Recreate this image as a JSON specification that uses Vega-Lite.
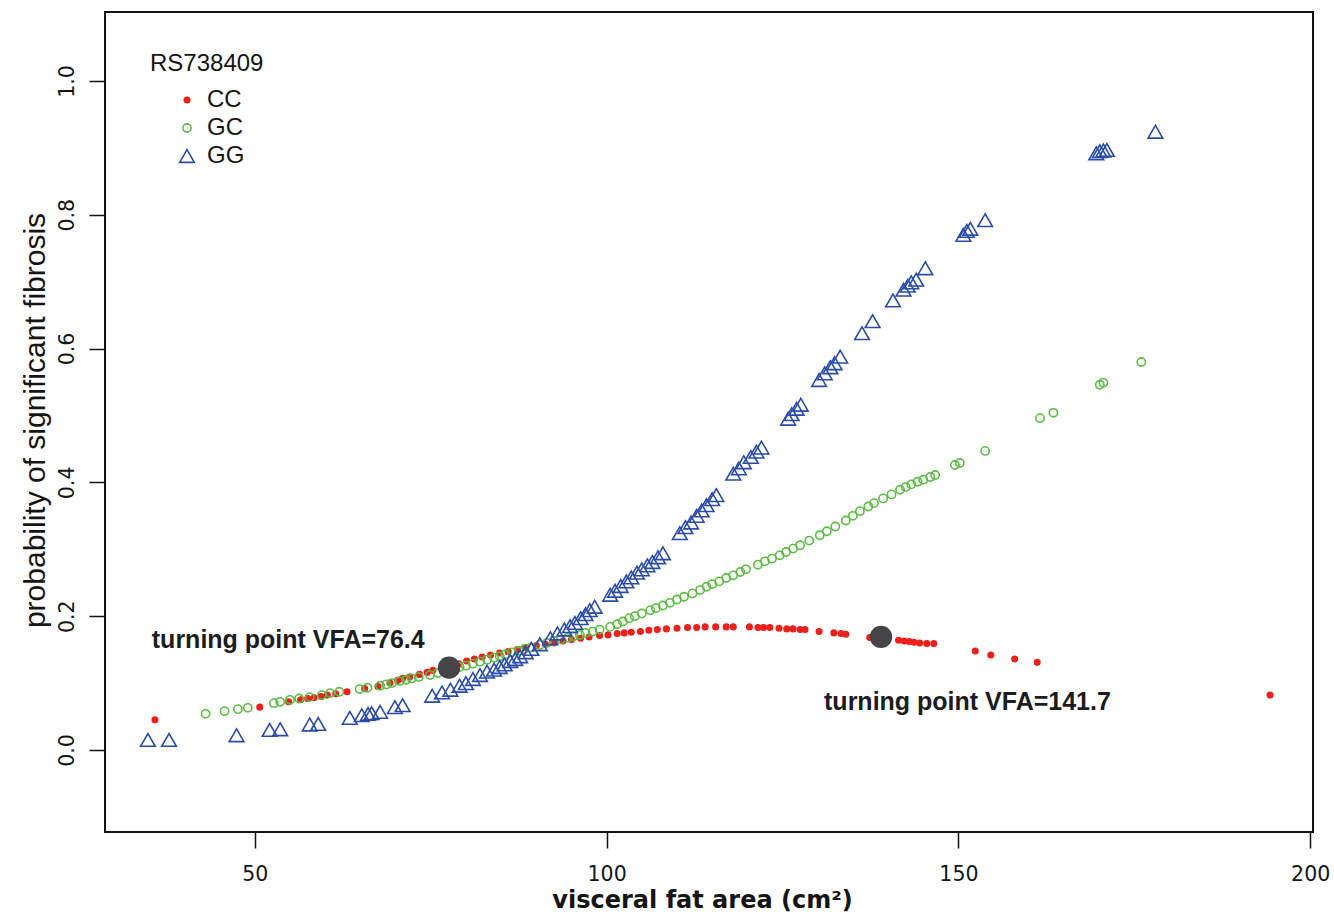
{
  "$schema": "https://vega.github.io/schema/vega-lite/v6.json",
  "width": 1208,
  "height": 820,
  "autosize": {"type": "none"},
  "padding": {"left": 105, "top": 12, "right": 21, "bottom": 84},
  "background": "white",
  "config": {
    "view": {"stroke": "#111111", "strokeWidth": 2},
    "axis": {
      "grid": false,
      "domain": false,
      "ticks": true,
      "tickSize": 16,
      "tickWidth": 1.5,
      "tickColor": "#111111",
      "labelFont": "DejaVu Sans",
      "labelFontSize": 20.5,
      "labelColor": "#151515",
      "titleColor": "#151515"
    }
  },
  "layer": [
    {
      "data": {
        "values": [
          {"RS738409": "CC", "vfa": 35.8, "prob": 0.045},
          {"RS738409": "CC", "vfa": 50.7, "prob": 0.064},
          {"RS738409": "CC", "vfa": 54.8, "prob": 0.072},
          {"RS738409": "CC", "vfa": 56.5, "prob": 0.075},
          {"RS738409": "CC", "vfa": 57.5, "prob": 0.077},
          {"RS738409": "CC", "vfa": 58.4, "prob": 0.078},
          {"RS738409": "CC", "vfa": 59.4, "prob": 0.080},
          {"RS738409": "CC", "vfa": 60.3, "prob": 0.082},
          {"RS738409": "CC", "vfa": 61.5, "prob": 0.084},
          {"RS738409": "CC", "vfa": 63.1, "prob": 0.087},
          {"RS738409": "CC", "vfa": 65.6, "prob": 0.092},
          {"RS738409": "CC", "vfa": 67.5, "prob": 0.095},
          {"RS738409": "CC", "vfa": 69.2, "prob": 0.100},
          {"RS738409": "CC", "vfa": 70.3, "prob": 0.104},
          {"RS738409": "CC", "vfa": 71.0, "prob": 0.107},
          {"RS738409": "CC", "vfa": 72.0, "prob": 0.109},
          {"RS738409": "CC", "vfa": 73.4, "prob": 0.113},
          {"RS738409": "CC", "vfa": 74.5, "prob": 0.116},
          {"RS738409": "CC", "vfa": 75.3, "prob": 0.119},
          {"RS738409": "CC", "vfa": 76.5, "prob": 0.122},
          {"RS738409": "CC", "vfa": 78.0, "prob": 0.126},
          {"RS738409": "CC", "vfa": 79.0, "prob": 0.129},
          {"RS738409": "CC", "vfa": 80.1, "prob": 0.133},
          {"RS738409": "CC", "vfa": 81.2, "prob": 0.136},
          {"RS738409": "CC", "vfa": 82.3, "prob": 0.139},
          {"RS738409": "CC", "vfa": 83.5, "prob": 0.142},
          {"RS738409": "CC", "vfa": 84.8, "prob": 0.145},
          {"RS738409": "CC", "vfa": 86.0, "prob": 0.147},
          {"RS738409": "CC", "vfa": 87.3, "prob": 0.150},
          {"RS738409": "CC", "vfa": 88.5, "prob": 0.153},
          {"RS738409": "CC", "vfa": 90.0, "prob": 0.156},
          {"RS738409": "CC", "vfa": 91.3, "prob": 0.158},
          {"RS738409": "CC", "vfa": 92.5, "prob": 0.160},
          {"RS738409": "CC", "vfa": 93.8, "prob": 0.163},
          {"RS738409": "CC", "vfa": 95.0, "prob": 0.165},
          {"RS738409": "CC", "vfa": 96.3, "prob": 0.167},
          {"RS738409": "CC", "vfa": 97.5, "prob": 0.169},
          {"RS738409": "CC", "vfa": 99.0, "prob": 0.171},
          {"RS738409": "CC", "vfa": 100.2, "prob": 0.172},
          {"RS738409": "CC", "vfa": 101.5, "prob": 0.174},
          {"RS738409": "CC", "vfa": 102.5, "prob": 0.175},
          {"RS738409": "CC", "vfa": 103.5, "prob": 0.176},
          {"RS738409": "CC", "vfa": 104.8, "prob": 0.177},
          {"RS738409": "CC", "vfa": 106.0, "prob": 0.179},
          {"RS738409": "CC", "vfa": 107.2, "prob": 0.180},
          {"RS738409": "CC", "vfa": 108.5, "prob": 0.181},
          {"RS738409": "CC", "vfa": 110.0, "prob": 0.182},
          {"RS738409": "CC", "vfa": 111.5, "prob": 0.183},
          {"RS738409": "CC", "vfa": 112.8, "prob": 0.183},
          {"RS738409": "CC", "vfa": 114.0, "prob": 0.184},
          {"RS738409": "CC", "vfa": 115.5, "prob": 0.184},
          {"RS738409": "CC", "vfa": 117.0, "prob": 0.184},
          {"RS738409": "CC", "vfa": 118.0, "prob": 0.184},
          {"RS738409": "CC", "vfa": 120.3, "prob": 0.184},
          {"RS738409": "CC", "vfa": 121.5, "prob": 0.183},
          {"RS738409": "CC", "vfa": 122.3, "prob": 0.183},
          {"RS738409": "CC", "vfa": 123.2, "prob": 0.183},
          {"RS738409": "CC", "vfa": 124.5, "prob": 0.182},
          {"RS738409": "CC", "vfa": 125.6, "prob": 0.181},
          {"RS738409": "CC", "vfa": 126.5, "prob": 0.181},
          {"RS738409": "CC", "vfa": 127.5, "prob": 0.180},
          {"RS738409": "CC", "vfa": 128.2, "prob": 0.180},
          {"RS738409": "CC", "vfa": 130.2, "prob": 0.177},
          {"RS738409": "CC", "vfa": 132.3, "prob": 0.175},
          {"RS738409": "CC", "vfa": 133.3, "prob": 0.174},
          {"RS738409": "CC", "vfa": 134.0, "prob": 0.173},
          {"RS738409": "CC", "vfa": 137.4, "prob": 0.168},
          {"RS738409": "CC", "vfa": 141.5, "prob": 0.164},
          {"RS738409": "CC", "vfa": 142.3, "prob": 0.163},
          {"RS738409": "CC", "vfa": 143.0, "prob": 0.162},
          {"RS738409": "CC", "vfa": 143.7, "prob": 0.161},
          {"RS738409": "CC", "vfa": 144.5, "prob": 0.160},
          {"RS738409": "CC", "vfa": 145.5, "prob": 0.159},
          {"RS738409": "CC", "vfa": 146.5, "prob": 0.159},
          {"RS738409": "CC", "vfa": 152.4, "prob": 0.148},
          {"RS738409": "CC", "vfa": 154.6, "prob": 0.142},
          {"RS738409": "CC", "vfa": 158.0, "prob": 0.136},
          {"RS738409": "CC", "vfa": 161.2, "prob": 0.131},
          {"RS738409": "CC", "vfa": 194.3, "prob": 0.082},
          {"RS738409": "GC", "vfa": 43.0, "prob": 0.054},
          {"RS738409": "GC", "vfa": 45.7, "prob": 0.058},
          {"RS738409": "GC", "vfa": 47.6, "prob": 0.061},
          {"RS738409": "GC", "vfa": 49.0, "prob": 0.063},
          {"RS738409": "GC", "vfa": 52.7, "prob": 0.070},
          {"RS738409": "GC", "vfa": 53.6, "prob": 0.072},
          {"RS738409": "GC", "vfa": 55.0, "prob": 0.075},
          {"RS738409": "GC", "vfa": 56.3, "prob": 0.077},
          {"RS738409": "GC", "vfa": 57.8, "prob": 0.079},
          {"RS738409": "GC", "vfa": 59.5, "prob": 0.082},
          {"RS738409": "GC", "vfa": 60.7, "prob": 0.085},
          {"RS738409": "GC", "vfa": 62.0, "prob": 0.087},
          {"RS738409": "GC", "vfa": 64.9, "prob": 0.091},
          {"RS738409": "GC", "vfa": 66.0, "prob": 0.093},
          {"RS738409": "GC", "vfa": 67.8, "prob": 0.096},
          {"RS738409": "GC", "vfa": 68.7, "prob": 0.098},
          {"RS738409": "GC", "vfa": 69.5, "prob": 0.100},
          {"RS738409": "GC", "vfa": 70.6, "prob": 0.103},
          {"RS738409": "GC", "vfa": 71.5, "prob": 0.105},
          {"RS738409": "GC", "vfa": 72.3, "prob": 0.107},
          {"RS738409": "GC", "vfa": 73.3, "prob": 0.109},
          {"RS738409": "GC", "vfa": 74.9, "prob": 0.112},
          {"RS738409": "GC", "vfa": 76.0, "prob": 0.115},
          {"RS738409": "GC", "vfa": 77.0, "prob": 0.118},
          {"RS738409": "GC", "vfa": 78.0, "prob": 0.120},
          {"RS738409": "GC", "vfa": 79.1, "prob": 0.124},
          {"RS738409": "GC", "vfa": 80.0, "prob": 0.126},
          {"RS738409": "GC", "vfa": 81.0, "prob": 0.129},
          {"RS738409": "GC", "vfa": 82.0, "prob": 0.132},
          {"RS738409": "GC", "vfa": 83.0, "prob": 0.135},
          {"RS738409": "GC", "vfa": 84.0, "prob": 0.138},
          {"RS738409": "GC", "vfa": 84.8, "prob": 0.140},
          {"RS738409": "GC", "vfa": 85.6, "prob": 0.143},
          {"RS738409": "GC", "vfa": 86.5, "prob": 0.146},
          {"RS738409": "GC", "vfa": 87.5, "prob": 0.148},
          {"RS738409": "GC", "vfa": 88.3, "prob": 0.151},
          {"RS738409": "GC", "vfa": 89.2, "prob": 0.153},
          {"RS738409": "GC", "vfa": 90.5, "prob": 0.157},
          {"RS738409": "GC", "vfa": 91.5, "prob": 0.160},
          {"RS738409": "GC", "vfa": 92.5, "prob": 0.163},
          {"RS738409": "GC", "vfa": 93.5, "prob": 0.165},
          {"RS738409": "GC", "vfa": 94.5, "prob": 0.168},
          {"RS738409": "GC", "vfa": 95.3, "prob": 0.170},
          {"RS738409": "GC", "vfa": 96.2, "prob": 0.172},
          {"RS738409": "GC", "vfa": 97.0, "prob": 0.175},
          {"RS738409": "GC", "vfa": 98.0, "prob": 0.177},
          {"RS738409": "GC", "vfa": 99.0, "prob": 0.180},
          {"RS738409": "GC", "vfa": 100.5, "prob": 0.184},
          {"RS738409": "GC", "vfa": 101.5, "prob": 0.188},
          {"RS738409": "GC", "vfa": 102.3, "prob": 0.192},
          {"RS738409": "GC", "vfa": 103.2, "prob": 0.197},
          {"RS738409": "GC", "vfa": 104.0, "prob": 0.200},
          {"RS738409": "GC", "vfa": 105.0, "prob": 0.204},
          {"RS738409": "GC", "vfa": 106.2, "prob": 0.209},
          {"RS738409": "GC", "vfa": 107.0, "prob": 0.212},
          {"RS738409": "GC", "vfa": 108.0, "prob": 0.216},
          {"RS738409": "GC", "vfa": 109.0, "prob": 0.220},
          {"RS738409": "GC", "vfa": 110.0, "prob": 0.225},
          {"RS738409": "GC", "vfa": 111.0, "prob": 0.229},
          {"RS738409": "GC", "vfa": 112.2, "prob": 0.234},
          {"RS738409": "GC", "vfa": 113.3, "prob": 0.239},
          {"RS738409": "GC", "vfa": 114.2, "prob": 0.244},
          {"RS738409": "GC", "vfa": 115.0, "prob": 0.248},
          {"RS738409": "GC", "vfa": 116.0, "prob": 0.252},
          {"RS738409": "GC", "vfa": 117.0, "prob": 0.257},
          {"RS738409": "GC", "vfa": 118.0, "prob": 0.261},
          {"RS738409": "GC", "vfa": 119.0, "prob": 0.266},
          {"RS738409": "GC", "vfa": 119.8, "prob": 0.270},
          {"RS738409": "GC", "vfa": 121.5, "prob": 0.277},
          {"RS738409": "GC", "vfa": 122.5, "prob": 0.282},
          {"RS738409": "GC", "vfa": 123.5, "prob": 0.286},
          {"RS738409": "GC", "vfa": 124.6, "prob": 0.291},
          {"RS738409": "GC", "vfa": 125.5, "prob": 0.296},
          {"RS738409": "GC", "vfa": 126.5, "prob": 0.301},
          {"RS738409": "GC", "vfa": 127.5, "prob": 0.306},
          {"RS738409": "GC", "vfa": 128.8, "prob": 0.313},
          {"RS738409": "GC", "vfa": 130.3, "prob": 0.321},
          {"RS738409": "GC", "vfa": 131.3, "prob": 0.327},
          {"RS738409": "GC", "vfa": 132.5, "prob": 0.334},
          {"RS738409": "GC", "vfa": 134.0, "prob": 0.343},
          {"RS738409": "GC", "vfa": 135.0, "prob": 0.350},
          {"RS738409": "GC", "vfa": 136.0, "prob": 0.357},
          {"RS738409": "GC", "vfa": 137.2, "prob": 0.364},
          {"RS738409": "GC", "vfa": 138.0, "prob": 0.369},
          {"RS738409": "GC", "vfa": 139.3, "prob": 0.376},
          {"RS738409": "GC", "vfa": 140.5, "prob": 0.382},
          {"RS738409": "GC", "vfa": 141.7, "prob": 0.389},
          {"RS738409": "GC", "vfa": 142.5, "prob": 0.393},
          {"RS738409": "GC", "vfa": 143.3, "prob": 0.397},
          {"RS738409": "GC", "vfa": 144.2, "prob": 0.401},
          {"RS738409": "GC", "vfa": 145.0, "prob": 0.404},
          {"RS738409": "GC", "vfa": 146.0, "prob": 0.408},
          {"RS738409": "GC", "vfa": 146.7, "prob": 0.411},
          {"RS738409": "GC", "vfa": 149.5, "prob": 0.426},
          {"RS738409": "GC", "vfa": 150.2, "prob": 0.429},
          {"RS738409": "GC", "vfa": 153.8, "prob": 0.447},
          {"RS738409": "GC", "vfa": 161.6, "prob": 0.496},
          {"RS738409": "GC", "vfa": 163.5, "prob": 0.504},
          {"RS738409": "GC", "vfa": 170.1, "prob": 0.546},
          {"RS738409": "GC", "vfa": 170.6, "prob": 0.549},
          {"RS738409": "GC", "vfa": 176.0, "prob": 0.580},
          {"RS738409": "GG", "vfa": 34.8, "prob": 0.015},
          {"RS738409": "GG", "vfa": 37.8, "prob": 0.015},
          {"RS738409": "GG", "vfa": 47.4, "prob": 0.022},
          {"RS738409": "GG", "vfa": 52.1, "prob": 0.030},
          {"RS738409": "GG", "vfa": 53.6, "prob": 0.031},
          {"RS738409": "GG", "vfa": 57.8, "prob": 0.038},
          {"RS738409": "GG", "vfa": 59.0, "prob": 0.039},
          {"RS738409": "GG", "vfa": 63.5, "prob": 0.048},
          {"RS738409": "GG", "vfa": 65.2, "prob": 0.052},
          {"RS738409": "GG", "vfa": 66.1, "prob": 0.054},
          {"RS738409": "GG", "vfa": 66.6, "prob": 0.055},
          {"RS738409": "GG", "vfa": 67.8, "prob": 0.057},
          {"RS738409": "GG", "vfa": 69.9, "prob": 0.064},
          {"RS738409": "GG", "vfa": 71.0, "prob": 0.067},
          {"RS738409": "GG", "vfa": 75.2, "prob": 0.081},
          {"RS738409": "GG", "vfa": 76.6, "prob": 0.086},
          {"RS738409": "GG", "vfa": 77.8, "prob": 0.090},
          {"RS738409": "GG", "vfa": 79.1, "prob": 0.096},
          {"RS738409": "GG", "vfa": 80.0, "prob": 0.100},
          {"RS738409": "GG", "vfa": 81.0, "prob": 0.106},
          {"RS738409": "GG", "vfa": 82.0, "prob": 0.112},
          {"RS738409": "GG", "vfa": 83.0, "prob": 0.117},
          {"RS738409": "GG", "vfa": 84.0, "prob": 0.120},
          {"RS738409": "GG", "vfa": 84.8, "prob": 0.124},
          {"RS738409": "GG", "vfa": 85.5, "prob": 0.128},
          {"RS738409": "GG", "vfa": 86.3, "prob": 0.133},
          {"RS738409": "GG", "vfa": 87.0, "prob": 0.136},
          {"RS738409": "GG", "vfa": 87.7, "prob": 0.140},
          {"RS738409": "GG", "vfa": 88.5, "prob": 0.146},
          {"RS738409": "GG", "vfa": 89.3, "prob": 0.151},
          {"RS738409": "GG", "vfa": 90.5, "prob": 0.158},
          {"RS738409": "GG", "vfa": 92.0, "prob": 0.167},
          {"RS738409": "GG", "vfa": 93.0, "prob": 0.174},
          {"RS738409": "GG", "vfa": 94.0, "prob": 0.180},
          {"RS738409": "GG", "vfa": 94.8, "prob": 0.185},
          {"RS738409": "GG", "vfa": 95.5, "prob": 0.190},
          {"RS738409": "GG", "vfa": 96.3, "prob": 0.197},
          {"RS738409": "GG", "vfa": 97.0, "prob": 0.203},
          {"RS738409": "GG", "vfa": 97.6, "prob": 0.209},
          {"RS738409": "GG", "vfa": 98.3, "prob": 0.214},
          {"RS738409": "GG", "vfa": 100.5, "prob": 0.232},
          {"RS738409": "GG", "vfa": 101.2, "prob": 0.238},
          {"RS738409": "GG", "vfa": 102.0, "prob": 0.245},
          {"RS738409": "GG", "vfa": 102.8, "prob": 0.252},
          {"RS738409": "GG", "vfa": 103.5, "prob": 0.258},
          {"RS738409": "GG", "vfa": 104.3, "prob": 0.265},
          {"RS738409": "GG", "vfa": 105.0, "prob": 0.270},
          {"RS738409": "GG", "vfa": 105.8, "prob": 0.276},
          {"RS738409": "GG", "vfa": 106.5, "prob": 0.281},
          {"RS738409": "GG", "vfa": 107.3, "prob": 0.288},
          {"RS738409": "GG", "vfa": 108.0, "prob": 0.294},
          {"RS738409": "GG", "vfa": 110.4, "prob": 0.324},
          {"RS738409": "GG", "vfa": 111.2, "prob": 0.333},
          {"RS738409": "GG", "vfa": 112.0, "prob": 0.340},
          {"RS738409": "GG", "vfa": 112.8, "prob": 0.350},
          {"RS738409": "GG", "vfa": 113.5, "prob": 0.358},
          {"RS738409": "GG", "vfa": 114.2, "prob": 0.366},
          {"RS738409": "GG", "vfa": 115.0, "prob": 0.375},
          {"RS738409": "GG", "vfa": 115.6, "prob": 0.381},
          {"RS738409": "GG", "vfa": 118.0, "prob": 0.413},
          {"RS738409": "GG", "vfa": 118.8, "prob": 0.421},
          {"RS738409": "GG", "vfa": 119.5, "prob": 0.430},
          {"RS738409": "GG", "vfa": 120.5, "prob": 0.438},
          {"RS738409": "GG", "vfa": 121.3, "prob": 0.446},
          {"RS738409": "GG", "vfa": 122.0, "prob": 0.452},
          {"RS738409": "GG", "vfa": 125.8, "prob": 0.495},
          {"RS738409": "GG", "vfa": 126.3, "prob": 0.502},
          {"RS738409": "GG", "vfa": 127.0, "prob": 0.510},
          {"RS738409": "GG", "vfa": 127.6, "prob": 0.516},
          {"RS738409": "GG", "vfa": 130.2, "prob": 0.553},
          {"RS738409": "GG", "vfa": 131.0, "prob": 0.563},
          {"RS738409": "GG", "vfa": 131.8, "prob": 0.572},
          {"RS738409": "GG", "vfa": 132.4, "prob": 0.578},
          {"RS738409": "GG", "vfa": 133.2, "prob": 0.588},
          {"RS738409": "GG", "vfa": 136.3, "prob": 0.623},
          {"RS738409": "GG", "vfa": 137.8, "prob": 0.641},
          {"RS738409": "GG", "vfa": 140.7, "prob": 0.672},
          {"RS738409": "GG", "vfa": 142.2, "prob": 0.688},
          {"RS738409": "GG", "vfa": 142.8, "prob": 0.694},
          {"RS738409": "GG", "vfa": 143.3, "prob": 0.699},
          {"RS738409": "GG", "vfa": 144.0, "prob": 0.703},
          {"RS738409": "GG", "vfa": 145.3, "prob": 0.720},
          {"RS738409": "GG", "vfa": 150.7, "prob": 0.770},
          {"RS738409": "GG", "vfa": 151.2, "prob": 0.776},
          {"RS738409": "GG", "vfa": 151.7, "prob": 0.779},
          {"RS738409": "GG", "vfa": 153.8, "prob": 0.792},
          {"RS738409": "GG", "vfa": 169.6, "prob": 0.892},
          {"RS738409": "GG", "vfa": 170.1, "prob": 0.895},
          {"RS738409": "GG", "vfa": 170.6, "prob": 0.896},
          {"RS738409": "GG", "vfa": 171.1, "prob": 0.897},
          {"RS738409": "GG", "vfa": 178.0, "prob": 0.924}
        ]
      },
      "mark": {"type": "point", "opacity": 1, "strokeWidth": 1.6},
      "encoding": {
        "x": {
          "field": "vfa", "type": "quantitative",
          "scale": {"domain": [28.7, 200.4], "nice": false, "zero": false},
          "axis": {
            "values": [50, 100, 150, 200],
            "labelBaseline": "alphabetic",
            "labelPadding": 32,
            "title": "visceral fat area (cm²)",
            "titleFont": "DejaVu Sans",
            "titleFontSize": 24,
            "titleFontWeight": "bold",
            "titleX": 597, "titleY": 75,
            "titleAlign": "center", "titleBaseline": "alphabetic"
          }
        },
        "y": {
          "field": "prob", "type": "quantitative",
          "scale": {"domain": [-0.1226, 1.1031], "nice": false, "zero": false},
          "axis": {
            "values": [0, 0.2, 0.4, 0.6, 0.8, 1.0],
            "format": ".1f",
            "labelAngle": -90,
            "labelAlign": "center",
            "labelBaseline": "alphabetic",
            "labelPadding": 16,
            "title": "probability of significant fibrosis",
            "titleFont": "Liberation Sans",
            "titleFontSize": 30,
            "titleFontWeight": "normal",
            "titleAngle": -90,
            "titleX": -61, "titleY": 408,
            "titleAlign": "center", "titleBaseline": "alphabetic"
          }
        },
        "shape": {
          "field": "RS738409", "type": "nominal",
          "scale": {"domain": ["CC", "GC", "GG"], "range": ["circle", "circle", "triangle-up"]},
          "legend": {"orient": "none", "legendX": 45, "legendY": 40, "titleFont": "Liberation Sans", "titleFontSize": 24, "titleFontWeight": "normal", "titleColor": "#151515", "labelFont": "Liberation Sans", "labelFontSize": 24, "labelColor": "#151515", "symbolOffset": 25, "rowPadding": 4, "labelOffset": 8, "symbolStrokeWidth": 1.6, "titlePadding": 12}
        },
        "stroke": {
          "field": "RS738409", "type": "nominal",
          "scale": {"domain": ["CC", "GC", "GG"], "range": ["#ec211b", "#5cbc44", "#2a4ca8"]},
          "legend": {"orient": "none", "legendX": 45, "legendY": 40, "titleFont": "Liberation Sans", "titleFontSize": 24, "titleFontWeight": "normal", "titleColor": "#151515", "labelFont": "Liberation Sans", "labelFontSize": 24, "labelColor": "#151515", "symbolOffset": 25, "rowPadding": 4, "labelOffset": 8, "symbolStrokeWidth": 1.6, "titlePadding": 12}
        },
        "fill": {
          "field": "RS738409", "type": "nominal",
          "scale": {"domain": ["CC", "GC", "GG"], "range": ["#ec211b", "transparent", "transparent"]},
          "legend": {"orient": "none", "legendX": 45, "legendY": 40, "titleFont": "Liberation Sans", "titleFontSize": 24, "titleFontWeight": "normal", "titleColor": "#151515", "labelFont": "Liberation Sans", "labelFontSize": 24, "labelColor": "#151515", "symbolOffset": 25, "rowPadding": 4, "labelOffset": 8, "symbolStrokeWidth": 1.6, "titlePadding": 12}
        },
        "size": {
          "field": "RS738409", "type": "nominal",
          "scale": {"type": "ordinal", "domain": ["CC", "GC", "GG"], "range": [30, 68, 215]},
          "legend": {"orient": "none", "legendX": 45, "legendY": 40, "titleFont": "Liberation Sans", "titleFontSize": 24, "titleFontWeight": "normal", "titleColor": "#151515", "labelFont": "Liberation Sans", "labelFontSize": 24, "labelColor": "#151515", "symbolOffset": 25, "rowPadding": 4, "labelOffset": 8, "symbolStrokeWidth": 1.6, "titlePadding": 12}
        }
      }
    },
    {
      "data": {"values": [{"vfa": 77.6, "prob": 0.123}, {"vfa": 139.0, "prob": 0.169}]},
      "mark": {"type": "circle", "size": 500, "color": "#454548", "opacity": 1},
      "encoding": {
        "x": {"field": "vfa", "type": "quantitative"},
        "y": {"field": "prob", "type": "quantitative"}
      }
    },
    {
      "data": {"values": [
        {"vfa": 35.35, "prob": 0.1525, "label": "turning point VFA=76.4"},
        {"vfa": 130.9, "prob": 0.0605, "label": "turning point VFA=141.7"}
      ]},
      "mark": {"type": "text", "align": "left", "baseline": "alphabetic", "font": "Liberation Sans", "fontWeight": "bold", "fontSize": 25, "color": "#1c1c1c"},
      "encoding": {
        "x": {"field": "vfa", "type": "quantitative"},
        "y": {"field": "prob", "type": "quantitative"},
        "text": {"field": "label", "type": "nominal"}
      }
    }
  ]
}
